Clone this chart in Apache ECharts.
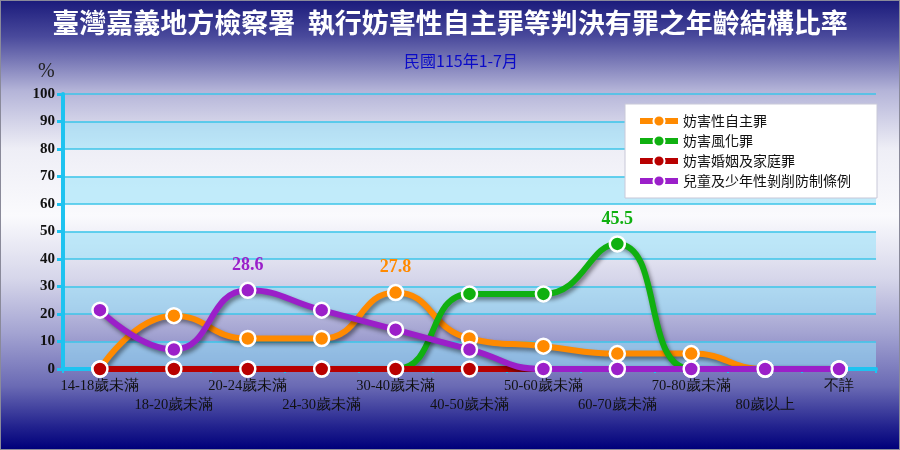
<!DOCTYPE html>
<html>
<head>
<meta charset="utf-8">
<script src="https://cdn.jsdelivr.net/npm/echarts@6/dist/echarts.min.js"></script>
<style>
  html, body { margin: 0; padding: 0; }
  #chart {
    width: 898px; height: 448px; border: 1px solid #8a8a9a;
    background: linear-gradient(to bottom, #1c1c7c 0%, #4a4a9c 8%, #b4b4d8 20%, #eeeef6 33%, #fafafd 48%, #d6d6ea 62%, #a4a4d2 74%, #6a6ab4 86%, #22228e 95%, #00007a 100%);
  }
</style>
</head>
<body>
<div id="chart"></div>
<script>
// 年齡組別
const categories = ['14-18歲未滿', '18-20歲未滿', '20-24歲未滿', '24-30歲未滿', '30-40歲未滿',
  '40-50歲未滿', '50-60歲未滿', '60-70歲未滿', '70-80歲未滿', '80歲以上', '不詳']
const seriesNames = ['妨害性自主罪', '妨害風化罪', '妨害婚姻及家庭罪', '兒童及少年性剝削防制條例']
// 各罪名比率 (%)
const sexualAutonomy = [0, 19.4, 11.1, 11.1, 27.8, 11.1, 8.3, 5.6, 5.6, 0, 0]
const morals = [0, 0, 0, 0, 0, 27.3, 27.3, 45.5, 0, 0, 0]
const marriage = [0, 0, 0, 0, 0, 0, 0, 0, 0, 0, 0]
const childExploit = [21.4, 7.1, 28.6, 21.4, 14.3, 7.1, 0, 0, 0, 0, 0]
const yTicks = [0, 10, 20, 30, 40, 50, 60, 70, 80, 90, 100]

const colors = ['#ff8a00', '#10b010', '#b80000', '#9b1fc9']
const seriesData = [sexualAutonomy, morals, marriage, childExploit]
const labelled = [true, true, false, true]

const chart = echarts.init(document.getElementById('chart'))

// 最大值才顯示標籤
const buildData = (arr, color, showMax) => {
  let max = Math.max.apply(null, arr)
  return arr.map(v => {
    if (showMax && v === max && v > 0) {
      return {
        value: v,
        label: {
          show: true,
          position: 'top',
          distance: 7,
          color: color,
          fontFamily: 'Liberation Serif',
          fontWeight: 'bold',
          fontSize: 18
        }
      }
    }
    return v
  })
}

const series = seriesNames.map((name, i) => {
  return {
    name: name,
    type: 'line',
    smooth: 0.5,
    data: buildData(seriesData[i], colors[i], labelled[i]),
    symbol: 'circle',
    symbolSize: 15,
    lineStyle: {
      width: 6,
      color: colors[i],
      shadowColor: 'rgba(0,0,0,0.45)',
      shadowBlur: 4,
      shadowOffsetX: 2,
      shadowOffsetY: 3
    },
    itemStyle: {
      color: colors[i],
      borderColor: '#fff',
      borderWidth: 2.5
    },
    z: 3 + i
  }
})

chart.setOption({
  animation: false,
  color: colors,
  title: [{
    text: '臺灣嘉義地方檢察署  執行妨害性自主罪等判決有罪之年齡結構比率',
    left: 'center',
    top: 3,
    textStyle: {
      color: '#fff',
      fontSize: 27,
      fontWeight: 'bold',
      fontFamily: 'Noto Sans CJK TC'
    }
  }, {
    text: '民國115年1-7月',
    left: 455,
    textAlign: 'center',
    top: 47,
    textStyle: {
      color: '#0a0ac8',
      fontSize: 16,
      fontWeight: 'normal',
      fontFamily: 'Noto Sans CJK TC'
    }
  }, {
    text: '%',
    left: 32,
    top: 56,
    textStyle: {
      color: '#222',
      fontSize: 20,
      fontWeight: 'normal',
      fontFamily: 'Liberation Serif'
    }
  }],
  legend: {
    orient: 'vertical',
    right: 22,
    top: 103,
    backgroundColor: '#fff',
    borderColor: '#c8c8d8',
    borderWidth: 1,
    padding: [10, 26, 10, 12],
    itemWidth: 38,
    itemHeight: 14,
    itemGap: 6,
    lineStyle: { width: 6 },
    itemStyle: { borderColor: '#fff', borderWidth: 2 },
    textStyle: {
      color: '#111',
      fontSize: 14,
      fontFamily: 'Noto Sans CJK TC'
    },
    data: seriesNames
  },
  grid: {
    left: 62,
    right: 23,
    top: 93,
    bottom: 80
  },
  xAxis: {
    type: 'category',
    data: categories,
    boundaryGap: true,
    axisLine: { lineStyle: { color: '#1ec3f0', width: 4 } },
    axisTick: { show: true, length: 4, lineStyle: { color: '#1ec3f0', width: 2 } },
    axisLabel: {
      interval: 0,
      color: '#111',
      fontSize: 14.5,
      fontFamily: 'Liberation Serif',
      lineHeight: 19,
      margin: 8,
      formatter: (v, i) => (i % 2 === 1 ? '\n' + v : v)
    }
  },
  yAxis: {
    type: 'value',
    min: yTicks[0],
    max: yTicks[yTicks.length - 1],
    interval: 10,
    axisLine: { show: true, lineStyle: { color: '#1ec3f0', width: 4 } },
    axisTick: { show: true, length: 6, lineStyle: { color: '#1ec3f0', width: 3 } },
    axisLabel: {
      color: '#111',
      fontSize: 15,
      fontWeight: 'bold',
      fontFamily: 'Liberation Serif',
      margin: 8
    },
    splitLine: { lineStyle: { color: '#3cc4e8', width: 1.5 } },
    splitArea: {
      show: true,
      areaStyle: { color: ['rgba(150,225,250,0.55)', 'rgba(255,255,255,0)'] }
    }
  },
  series: series
})

window.addEventListener('resize', function() {
  chart.resize()
})
</script>
</body>
</html>
